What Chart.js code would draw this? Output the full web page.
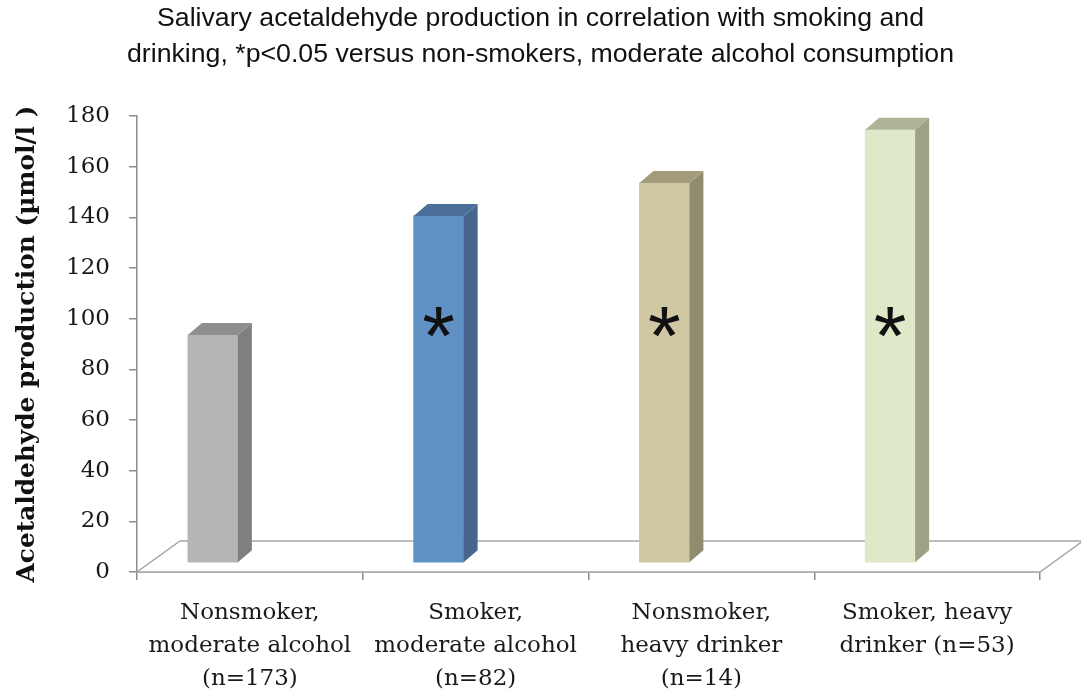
<!DOCTYPE html>
<html>
<head>
<meta charset="utf-8">
<script src="https://cdn.jsdelivr.net/npm/chart.js@4.4.0/dist/chart.umd.min.js"></script>
<style>
  html, body { margin: 0; padding: 0; background: #fff; }
  #wrap { width: 1081px; height: 695px; }
</style>
</head>
<body>
<div id="wrap"><canvas id="c" width="1081" height="695"></canvas></div>
<script>
// data
var categories = [
  ['Nonsmoker,', 'moderate alcohol', '(n=173)'],
  ['Smoker,', 'moderate alcohol', '(n=82)'],
  ['Nonsmoker,', 'heavy drinker', '(n=14)'],
  ['Smoker, heavy', 'drinker (n=53)']
];
var acetaldehyde = [90, 137, 150, 171];
var significant = [false, true, true, true];
var yTicks = [0, 20, 40, 60, 80, 100, 120, 140, 160, 180];

var frontColors = ['#b6b4b5', '#5f91c5', '#d0c7a3', '#dfe8c8'];
var sideColors = ['#7f7f7f', '#46668f', '#918b6f', '#9da289'];
var topColors = ['#8e8e8e', '#4b6e9a', '#a39c7c', '#aeb597'];

var shift = { x: -37, y: -9 };   // bars sit back on the floor
var depth = { dx: 14, dy: -12 }; // bar depth
var floorDepth = { dx: 43, dy: -31 };
var axisGray = '#8c8c8c';
var serif = '"DejaVu Serif", "Liberation Serif", serif';

var bar3d = {
  id: 'bar3d',
  beforeDatasetsDraw: function(chart) {
    var ctx = chart.ctx, a = chart.chartArea;
    ctx.save();
    ctx.beginPath();
    ctx.moveTo(a.left, a.bottom);
    ctx.lineTo(a.right, a.bottom);
    ctx.lineTo(a.right + floorDepth.dx, a.bottom + floorDepth.dy);
    ctx.lineTo(a.left + floorDepth.dx, a.bottom + floorDepth.dy);
    ctx.closePath();
    ctx.fillStyle = '#ffffff';
    ctx.fill();
    ctx.strokeStyle = '#a6a6a6';
    ctx.lineWidth = 1.5;
    ctx.stroke();
    ctx.restore();
    ctx.save();
    ctx.translate(shift.x, shift.y);
  },
  afterDatasetsDraw: function(chart) {
    var ctx = chart.ctx;
    var meta = chart.getDatasetMeta(0);
    meta.data.forEach(function(bar, i) {
      var half = bar.width / 2;
      var l = bar.x - half, r = bar.x + half, t = bar.y, b = bar.base;
      // side face
      ctx.beginPath();
      ctx.moveTo(r, b);
      ctx.lineTo(r, t);
      ctx.lineTo(r + depth.dx, t + depth.dy);
      ctx.lineTo(r + depth.dx, b + depth.dy);
      ctx.closePath();
      ctx.fillStyle = sideColors[i];
      ctx.fill();
      // top face
      ctx.beginPath();
      ctx.moveTo(l, t);
      ctx.lineTo(r, t);
      ctx.lineTo(r + depth.dx, t + depth.dy);
      ctx.lineTo(l + depth.dx, t + depth.dy);
      ctx.closePath();
      ctx.fillStyle = topColors[i];
      ctx.fill();
      // significance star
      if (significant[i]) {
        ctx.font = '84px "Liberation Sans", Arial, sans-serif';
        ctx.fillStyle = '#111';
        ctx.textAlign = 'center';
        ctx.textBaseline = 'alphabetic';
        var m = ctx.measureText('*');
        var cy = chart.scales.y.getPixelForValue(95);
        var base = cy + (m.actualBoundingBoxAscent - m.actualBoundingBoxDescent) / 2;
        ctx.fillText('*', bar.x, base);
      }
    });
    ctx.restore();
  }
};

var ctx = document.getElementById('c').getContext('2d');
var chart = new Chart(ctx, {
  type: 'bar',
  data: {
    labels: categories,
    datasets: [{
      data: acetaldehyde,
      backgroundColor: frontColors,
      borderWidth: 0,
      barThickness: 50,
      clip: false
    }]
  },
  options: {
    responsive: false,
    animation: false,
    devicePixelRatio: 1,
    layout: { padding: 0 },
    plugins: {
      legend: { display: false },
      tooltip: { enabled: false },
      title: {
        display: true,
        text: ['Salivary acetaldehyde production in correlation with smoking and',
               'drinking, *p<0.05 versus non-smokers, moderate alcohol consumption'],
        color: '#111',
        font: { family: '"Liberation Sans", Arial, sans-serif', size: 26.7, weight: 'normal', lineHeight: 36 / 26.7 },
        padding: { top: 1, bottom: 43 }
      }
    },
    scales: {
      x: {
        grid: { display: true, offset: true, drawOnChartArea: false, tickLength: 8, color: axisGray, lineWidth: 1.5 },
        border: { display: true, color: '#a6a6a6', width: 1.5 },
        ticks: {
          color: '#1a1a1a',
          padding: 17,
          maxRotation: 0,
          autoSkip: false,
          font: { family: serif, size: 23, lineHeight: 33 / 23 }
        },
        afterFit: function(scale) { scale.height = 123; }
      },
      y: {
        min: 0,
        max: 180,
        afterBuildTicks: function(scale) { scale.ticks = yTicks.map(function(v) { return { value: v }; }); },
        grid: { display: true, drawOnChartArea: false, tickLength: 8, color: axisGray, lineWidth: 1.5 },
        border: { display: true, color: axisGray, width: 1.5 },
        ticks: {
          color: '#1a1a1a',
          padding: 19,
          font: { family: serif, size: 23 }
        },
        title: {
          display: true,
          text: 'Acetaldehyde production (\u00b5mol/l )',
          color: '#111',
          padding: { top: 13, bottom: 0 },
          font: { family: serif, size: 24.8, weight: 'bold' }
        },
        afterFit: function(scale) { scale.width = 137; }
      },
      // empty right axis, only reserves the gap on the right of the floor
      gap: {
        type: 'linear',
        position: 'right',
        display: true,
        grid: { display: false },
        border: { display: false },
        ticks: { display: false },
        afterFit: function(scale) { scale.width = 41; }
      }
    }
  },
  plugins: [bar3d]
});
</script>
</body>
</html>
